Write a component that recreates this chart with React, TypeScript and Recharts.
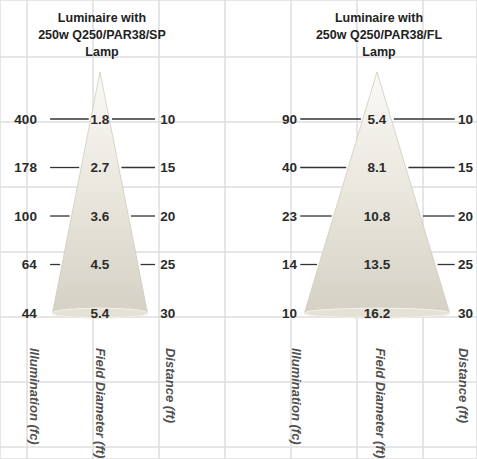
import {
  ComposedChart,
  XAxis,
  YAxis,
  CartesianGrid,
  ReferenceArea,
  ReferenceLine,
  ReferenceDot,
} from "recharts";

// photometric data
const distances = [10, 15, 20, 25, 30];
const spIllumination = [400, 178, 100, 64, 44];
const spFieldDiameter = [1.8, 2.7, 3.6, 4.5, 5.4];
const flIllumination = [90, 40, 23, 14, 10];
const flFieldDiameter = [5.4, 8.1, 10.8, 13.5, 16.2];

const spTitle = ["Luminaire with", "250w Q250/PAR38/SP", "Lamp"];
const flTitle = ["Luminaire with", "250w Q250/PAR38/FL", "Lamp"];
const columnHeaders = ["Illumination (fc)", "Field Diameter (ft)", "Distance (ft)"];

// background grid (in grid cells)
const gridColumns = [0, 1, 2, 3, 4, 5, 6];
const gridRows = [0, 1, 2, 3, 4, 5, 6];

const W = 477;
const H = 459;

const APEX = 5.15; // where the cone drawing starts (ft)
const BASE = 30;
const TITLE_ROWS = [-0.41, 1.34, 3.09];
const HEADER_ROW = 33.6;

const FONT = "'Liberation Sans', Arial, sans-serif";

interface Panel {
  id: string;
  title: string[];
  illum: number[];
  field: number[];
  center: number;
  halfBase: number;
  illumX: number;
  lineStart: number;
  lineEnd: number;
  distX: number;
  headerX: number[];
}

const panels: Panel[] = [
  {
    id: "sp",
    title: spTitle,
    illum: spIllumination,
    field: spFieldDiameter,
    center: 1.106,
    halfBase: 0.72,
    illumX: 0.15,
    lineStart: 0.35,
    lineEnd: 1.94,
    distX: 2.02,
    headerX: [0.106, 1.106, 2.167],
  },
  {
    id: "fl",
    title: flTitle,
    illum: flIllumination,
    field: flFieldDiameter,
    center: 5.303,
    halfBase: 1.1,
    illumX: 4.09,
    lineStart: 4.14,
    lineEnd: 6.48,
    distX: 6.53,
    headerX: [4.09, 5.35, 6.61],
  },
];

const rows = distances.map((d, i) => ({
  distance: d,
  spIllum: spIllumination[i],
  spField: spFieldDiameter[i],
  flIllum: flIllumination[i],
  flField: flFieldDiameter[i],
}));

const coneHalf = (p: Panel, d: number) =>
  (p.halfBase * (d - APEX)) / (BASE - APEX);

const textShape =
  (value: string, anchor: "start" | "middle" | "end", style: any) =>
  (props: any) =>
    (
      <text
        x={props.cx}
        y={props.cy}
        textAnchor={anchor}
        dominantBaseline="central"
        {...style}
      >
        {value}
      </text>
    );

const headerShape = (value: string) => (props: any) =>
  (
    <text
      x={props.cx}
      y={props.cy}
      transform={`rotate(90 ${props.cx} ${props.cy})`}
      textAnchor="start"
      dominantBaseline="central"
      fontFamily={FONT}
      fontStyle="italic"
      fontWeight="bold"
      fontSize={13}
      fill="#505050"
    >
      {value}
    </text>
  );

const coneShape = (id: string) => (props: any) => {
  const { x, y, width, height } = props;
  const bottom = y + height;
  return (
    <path
      d={`M${x + width / 2},${y} L${x},${bottom} A${width / 2},5 0 0 0 ${x + width},${bottom} Z`}
      fill={`url(#cone-${id})`}
      stroke="#cfcbbf"
      strokeWidth={0.8}
    />
  );
};

const baseShape = (props: any) => {
  const { x, y, width, height } = props;
  return (
    <ellipse
      cx={x + width / 2}
      cy={y + height / 2}
      rx={width / 2}
      ry={height / 2}
      fill="#e4e1d6"
      stroke="#f4f2ec"
      strokeWidth={1}
    />
  );
};

const numStyle = {
  fontFamily: FONT,
  fontWeight: "bold",
  fontSize: 13.5,
  fill: "#2a2a2a",
};

const titleStyle = {
  fontFamily: FONT,
  fontWeight: "bold",
  fontSize: 12.5,
  fill: "#222",
};

export default function App() {
  return (
    <div style={{ width: W, height: H }}>
      <style>{`body{margin:0}`}</style>
      <ComposedChart
        width={W}
        height={H}
        data={rows}
        margin={{ top: 0, right: 0, bottom: 0, left: 0 }}
      >
        <defs>
          {panels.map((p) => (
            <linearGradient key={p.id} id={`cone-${p.id}`} x1="0" y1="0" x2="0" y2="1">
              <stop offset="0%" stopColor="#faf9f5" />
              <stop offset="45%" stopColor="#ebe8df" />
              <stop offset="100%" stopColor="#d4d0c3" />
            </linearGradient>
          ))}
        </defs>

        <XAxis xAxisId="g" dataKey="gridX" type="number" domain={[-0.409, 6.818]} ticks={gridColumns} hide allowDataOverflow />
        <YAxis yAxisId="g" type="number" domain={[-0.877, 6.185]} ticks={gridRows} reversed hide allowDataOverflow />
        <YAxis yAxisId="d" type="number" dataKey="distance" domain={[-2.268, 45.05]} reversed hide allowDataOverflow />

        <CartesianGrid xAxisId="g" yAxisId="g" stroke="#dedede" strokeWidth={1.5} />

        {panels.map((p) => (
          <ReferenceArea
            key={`cone-${p.id}`}
            xAxisId="g"
            yAxisId="d"
            x1={p.center - p.halfBase}
            x2={p.center + p.halfBase}
            y1={APEX}
            y2={BASE}
            shape={coneShape(p.id)}
          />
        ))}
        {panels.map((p) => (
          <ReferenceArea
            key={`base-${p.id}`}
            xAxisId="g"
            yAxisId="d"
            x1={p.center - p.halfBase}
            x2={p.center + p.halfBase}
            y1={BASE - 0.5}
            y2={BASE + 0.5}
            shape={baseShape}
          />
        ))}

        {panels.flatMap((p) =>
          distances
            .filter((d) => d < BASE)
            .flatMap((d) => {
              const h = coneHalf(p, d);
              return [
                <ReferenceLine
                  key={`l-${p.id}-${d}`}
                  xAxisId="g"
                  yAxisId="d"
                  segment={[
                    { x: p.lineStart, y: d },
                    { x: p.center - h - 0.03, y: d },
                  ]}
                  stroke="#333"
                  strokeWidth={1.3}
                />,
                <ReferenceLine
                  key={`r-${p.id}-${d}`}
                  xAxisId="g"
                  yAxisId="d"
                  segment={[
                    { x: p.center + h + 0.04, y: d },
                    { x: p.lineEnd, y: d },
                  ]}
                  stroke="#333"
                  strokeWidth={1.3}
                />,
              ];
            })
        )}

        {panels.flatMap((p) =>
          distances.flatMap((d, i) => [
            <ReferenceDot
              key={`ti-${p.id}-${d}`}
              xAxisId="g"
              yAxisId="d"
              x={p.illumX}
              y={d}
              r={0}
              shape={textShape(String(p.illum[i]), "end", numStyle)}
            />,
            <ReferenceDot
              key={`tf-${p.id}-${d}`}
              xAxisId="g"
              yAxisId="d"
              x={p.center}
              y={d}
              r={0}
              shape={textShape(p.field[i].toFixed(1), "middle", numStyle)}
            />,
            <ReferenceDot
              key={`td-${p.id}-${d}`}
              xAxisId="g"
              yAxisId="d"
              x={p.distX}
              y={d}
              r={0}
              shape={textShape(String(d), "start", numStyle)}
            />,
          ])
        )}

        {panels.flatMap((p) =>
          p.title.map((line, k) => (
            <ReferenceDot
              key={`title-${p.id}-${k}`}
              xAxisId="g"
              yAxisId="d"
              x={p.center + 0.03}
              y={TITLE_ROWS[k]}
              r={0}
              shape={textShape(line, "middle", titleStyle)}
            />
          ))
        )}

        {panels.flatMap((p) =>
          columnHeaders.map((h, k) => (
            <ReferenceDot
              key={`head-${p.id}-${k}`}
              xAxisId="g"
              yAxisId="d"
              x={p.headerX[k]}
              y={HEADER_ROW}
              r={0}
              shape={headerShape(h)}
            />
          ))
        )}
      </ComposedChart>
    </div>
  );
}
